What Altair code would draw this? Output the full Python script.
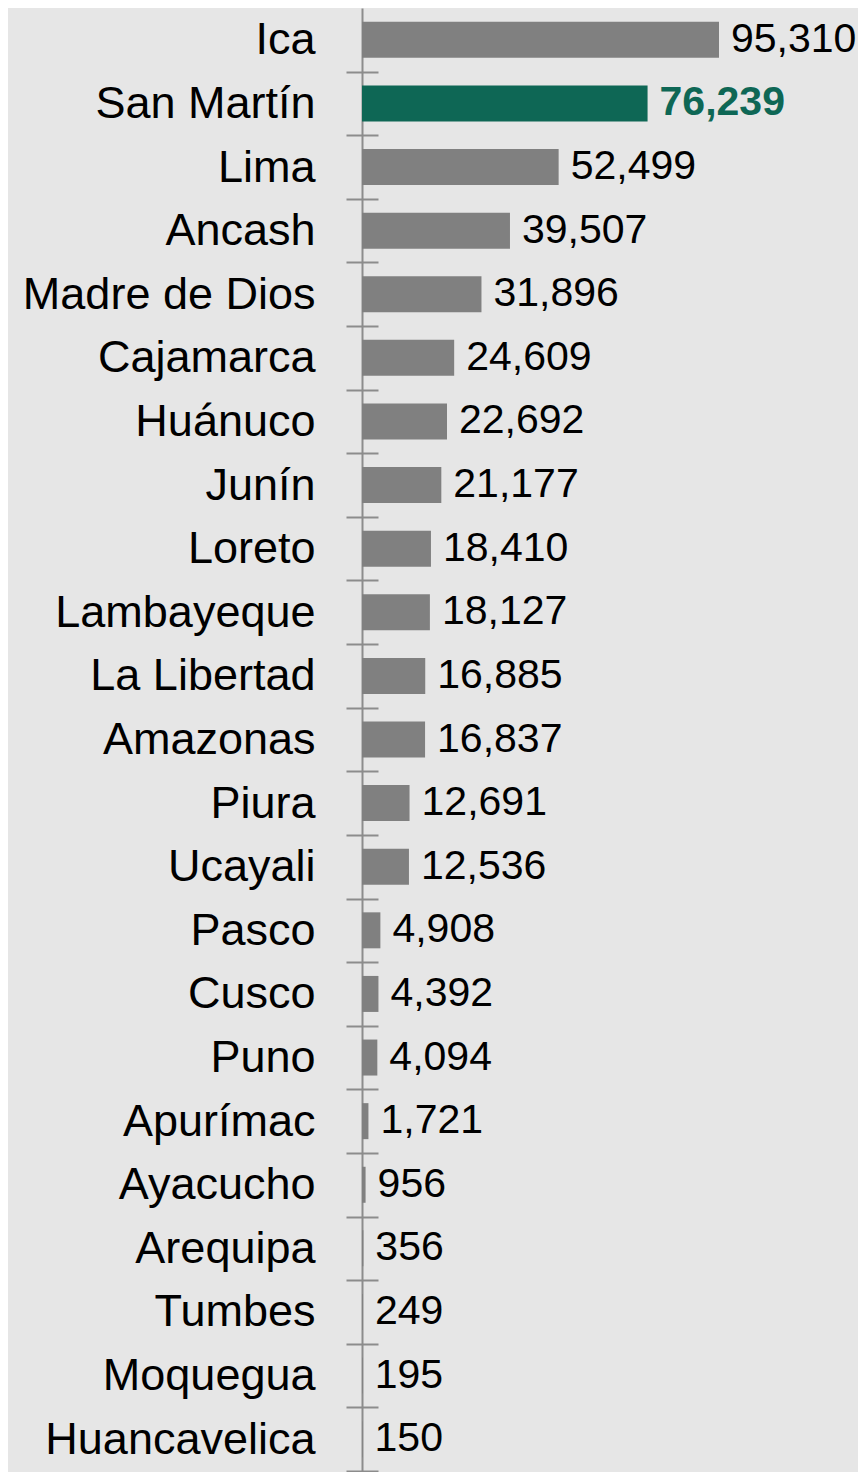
import altair as alt
import pandas as pd

regions = ["Ica", "San Martín", "Lima", "Ancash", "Madre de Dios", "Cajamarca",
           "Huánuco", "Junín", "Loreto", "Lambayeque", "La Libertad", "Amazonas",
           "Piura", "Ucayali", "Pasco", "Cusco", "Puno", "Apurímac", "Ayacucho",
           "Arequipa", "Tumbes", "Moquegua", "Huancavelica"]
values = [95310, 76239, 52499, 39507, 31896, 24609, 22692, 21177, 18410, 18127,
          16885, 16837, 12691, 12536, 4908, 4392, 4094, 1721, 956, 356, 249, 195, 150]
highlight = "San Martín"

df = pd.DataFrame({"region": regions, "value": values})

FONT = "Liberation Sans, Arial, sans-serif"
GREEN = "#0e6755"
GRAY = "#808080"
AXIS_GRAY = "#8c8c8c"
HEIGHT = 1463
HALF_STEP = HEIGHT / len(regions) / 2

is_hl = alt.datum.region == highlight
not_hl = alt.datum.region != highlight

yenc = alt.Y("region:N", sort=regions, title=None,
             scale=alt.Scale(paddingInner=0, paddingOuter=0),
             axis=alt.Axis(offset=-16, domain=False, tickSize=32,
                           tickOffset=HALF_STEP, labelOffset=-HALF_STEP,
                           tickColor=AXIS_GRAY, tickWidth=2, labelPadding=31,
                           labelLimit=0, labelFont=FONT, labelFontSize=45,
                           labelColor="#000000", labelAlign="right",
                           labelBaseline="middle"))
yplain = alt.Y("region:N", sort=regions)
xenc = alt.X("value:Q", scale=alt.Scale(domain=[0, 132420], nice=False), title=None,
             axis=alt.Axis(values=[0], grid=True, gridColor=AXIS_GRAY, gridWidth=2,
                           gridOpacity=1, labels=False, ticks=False, domain=False))

base = alt.Chart(df)

bars = base.mark_bar(size=36).encode(
    x=xenc, y=yenc,
    color=alt.condition(is_hl, alt.value(GREEN), alt.value(GRAY)),
)

labels = base.mark_text(
    align="left", baseline="middle", dx=12, font=FONT, fontSize=41, color="#000000"
).encode(x="value:Q", y=yplain,
         text=alt.condition(not_hl, alt.Text("value:Q", format=","), alt.value("")))

hl_label = base.mark_text(
    align="left", baseline="middle", dx=12, font=FONT, fontSize=41, fontWeight="bold",
    color=GREEN
).encode(x="value:Q", y=yplain,
         text=alt.condition(is_hl, alt.Text("value:Q", format=","), alt.value("")))

chart = alt.layer(bars, labels, hl_label).properties(
    width=496, height=HEIGHT,
    padding={"left": 14, "top": 0, "right": 0, "bottom": 0},
    background="#e6e6e6",
).configure_view(stroke=None)

chart.save("out.html", embed_options={"renderer": "svg", "actions": False})
